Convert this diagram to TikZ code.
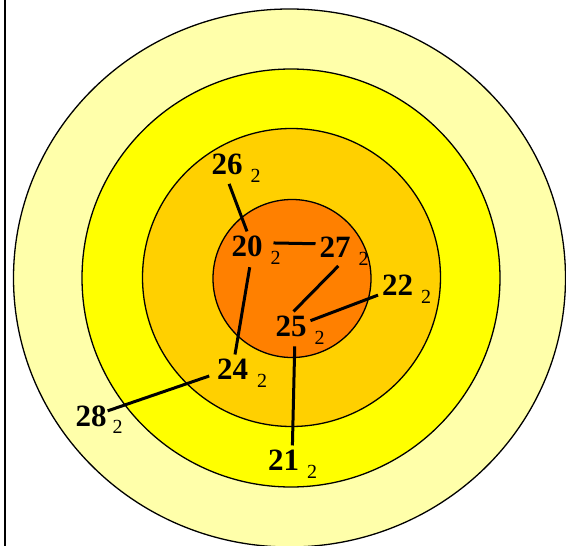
\documentclass[tikz,border=0pt]{standalone}
\usepackage{fontspec}
\setmainfont{Liberation Serif}
\usepackage{xcolor}
\usepackage{tikz}
\usetikzlibrary{positioning}
\definecolor{ringpale}{HTML}{FFFFAA}
\definecolor{ringyellow}{HTML}{FFFF00}
\definecolor{ringgold}{HTML}{FFD000}
\definecolor{ringorange}{HTML}{FF8000}

\begin{document}
\begin{tikzpicture}[x=1pt, y=-1pt,
  ring/.style={draw=black, line width=1.3pt},
  num/.style={font=\fontsize{31}{31}\selectfont\bfseries, inner sep=0pt, outer sep=4pt, anchor=base},
  sub/.style={font=\fontsize{20}{20}\selectfont, inner sep=0pt, anchor=base west},
  link/.style={line width=3pt}
]
\useasboundingbox (0,0) rectangle (566,546);
\begin{scope}
\clip (0,0) rectangle (566,546);
\draw[ring, fill=ringpale] (289.5,278) ellipse [x radius=276, y radius=269];
\draw[ring, fill=ringyellow] (291,278) circle [radius=209];
\draw[ring, fill=ringgold] (291.5,277.5) circle [radius=149];
\draw[ring, fill=ringorange] (292,278.5) circle [radius=79];
\end{scope}
\draw[line width=2pt] (5,0) -- (5,546);

% labels
\node[num] (n26) at (227,174) {26};
\node[num] (n20) at (247,256) {20};
\node[num] (n27) at (335,257) {27};
\node[num] (n22) at (397.5,295) {22};
\node[num] (n25) at (291,336) {25};
\node[num] (n24) at (232.5,379) {24};
\node[num] (n28) at (91,426) {28};
\node[num] (n21) at (283.5,470) {21};

\node[sub] (s26) at ([shift={(4pt,-8.5pt)}]n26.base east) {2};
\node[sub] (s20) at ([shift={(4pt,-8.5pt)}]n20.base east) {2};
\node[sub] (s27) at ([shift={(4pt,-8.5pt)}]n27.base east) {2};
\node[sub] (s22) at ([shift={(4pt,-8.5pt)}]n22.base east) {2};
\node[sub] (s25) at ([shift={(4pt,-8.5pt)}]n25.base east) {2};
\node[sub] (s24) at ([shift={(5pt,-8.5pt)}]n24.base east) {2};
\node[sub] (s28) at ([shift={(2pt,-7pt)}]n28.base east) {2};
\node[sub] (s21) at ([shift={(4pt,-8.5pt)}]n21.base east) {2};

% links
\draw[link, shorten <=6pt] (n26.south) -- (n20.north);
\draw[link, shorten <=7pt] ([yshift=3pt]n20.east) -- ([yshift=3pt]n27.west);
\draw[link, shorten <=7pt] (n20.-75) -- (n24.80);
\draw[link, shorten <=7pt] (n27.-60) -- (n25.80);
\draw[link] (n25.15) -- (n22.208);
\draw[link, shorten <=6pt] (n25.-75) -- (n21.58);
\draw[link, shorten <=4pt, shorten >=-3pt] (n24.197) -- (n28.17);
\end{tikzpicture}
\end{document}
